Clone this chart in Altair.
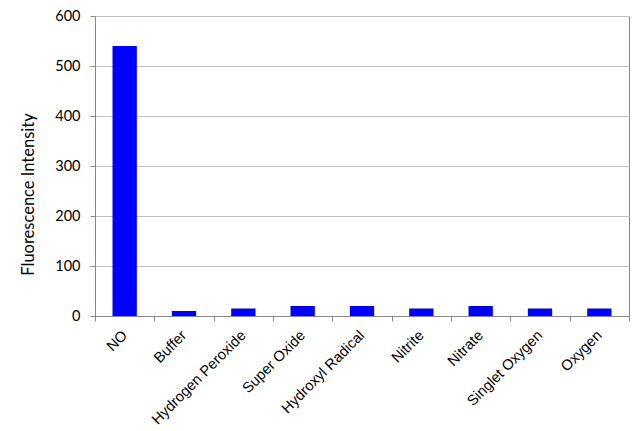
import altair as alt
import pandas as pd

categories = ["NO", "Buffer", "Hydrogen Peroxide", "Super Oxide", "Hydroxyl Radical",
              "Nitrite", "Nitrate", "Singlet Oxygen", "Oxygen"]
values = [540, 10, 15, 20, 20, 15, 20, 15, 15]

df = pd.DataFrame({"category": categories, "value": values})

chart = alt.Chart(df).mark_bar(
    color="#0000FF", width=alt.RelativeBandSize(0.41)
).encode(
    x=alt.X("category:N", sort=categories, title=None,
            scale=alt.Scale(paddingInner=0, paddingOuter=0),
            axis=alt.Axis(labelAngle=-45, labelAlign="right", labelBaseline="middle",
                          labelFont="Liberation Sans", labelFontSize=14.7, labelColor="#000000",
                          labelPadding=12, labelLimit=300, tickBand="extent", tickSize=5,
                          tickColor="#888888", domainColor="#888888", grid=False)),
    y=alt.Y("value:Q", title="Fluorescence Intensity",
            scale=alt.Scale(domain=[0, 600]),
            axis=alt.Axis(values=[0, 100, 200, 300, 400, 500, 600], tickSize=5,
                          tickColor="#888888", domainColor="#888888",
                          gridColor="#c0c0c0", labelFont="Lato", labelFontSize=14.5,
                          labelColor="#000000", labelPadding=10,
                          titleFont="Lato", titleFontSize=16.5, titleFontWeight="normal",
                          titleColor="#000000", titleX=-67, titleY=178,
                          titleBaseline="middle", titleAngle=-90)),
).properties(
    width=534, height=300,
    autosize=alt.AutoSizeParams(type="none"),
    padding={"left": 87, "top": 8, "right": 3, "bottom": 115},
).configure_view(stroke="#888888", strokeWidth=1)

chart.save("out.html", embed_options={"renderer": "svg", "actions": False})
